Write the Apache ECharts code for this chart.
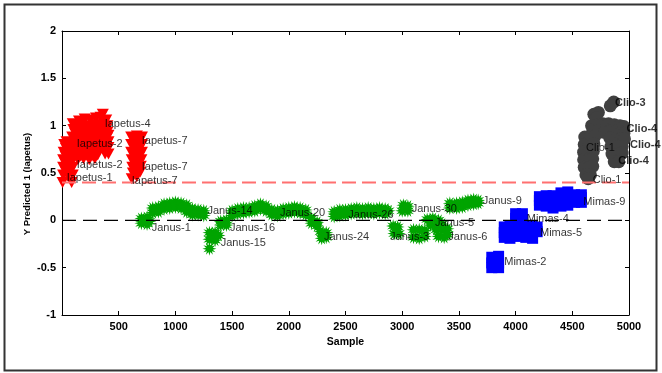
<!DOCTYPE html>
<html><head><meta charset="utf-8">
<script src="https://cdn.jsdelivr.net/npm/echarts@6/dist/echarts.min.js"></script>
<style>html,body{margin:0;padding:0;background:#fff}#c{width:662px;height:373px}</style>
</head><body><div id="c"></div>
<script>
// ---- data (sample index, Y predicted) ----
const iapetus = [
 [5,0.40],[85,0.40],
 [10,0.48],[50,0.47],[95,0.48],[30,0.52],[75,0.52],
 [10,0.56],[50,0.55],[95,0.56],[30,0.60],[75,0.60],
 [10,0.64],[50,0.63],[95,0.64],[30,0.68],[75,0.68],
 [15,0.72],[55,0.71],[100,0.72],[35,0.76],[80,0.76],
 [20,0.80],[60,0.80],[100,0.80],[40,0.83],
 [90,0.64],[140,0.64],[190,0.65],[240,0.64],[290,0.65],[380,0.70],[410,0.70],
 [115,0.68],[165,0.68],[215,0.69],[265,0.68],[315,0.69],[395,0.74],
 [90,0.72],[140,0.73],[190,0.72],[240,0.73],[290,0.72],[340,0.76],[380,0.76],[410,0.77],
 [115,0.76],[165,0.77],[215,0.76],[265,0.77],[315,0.76],[360,0.79],[395,0.80],
 [90,0.80],[140,0.81],[190,0.80],[240,0.81],[290,0.80],[340,0.81],[380,0.82],[410,0.83],
 [115,0.84],[165,0.85],[215,0.84],[265,0.85],[315,0.84],[360,0.86],[395,0.87],
 [90,0.88],[140,0.89],[190,0.88],[240,0.89],[290,0.88],[340,0.89],[380,0.90],[410,0.90],
 [115,0.92],[165,0.93],[215,0.92],[265,0.93],[315,0.92],[365,0.93],[400,0.93],
 [100,0.96],[150,0.97],[200,0.96],[250,0.97],[300,0.96],[350,0.97],[390,0.96],
 [125,1.00],[175,1.01],[225,1.00],[275,1.01],[325,1.01],[370,1.02],[400,1.00],
 [95,1.02],[150,1.05],[200,1.07],[250,1.06],[300,1.08],[340,1.09],[360,1.12],[390,1.06],
 [610,0.88],[660,0.89],[705,0.88],[635,0.84],[685,0.84],
 [610,0.80],[660,0.81],[705,0.80],[635,0.76],[685,0.76],
 [610,0.72],[660,0.72],[705,0.72],[635,0.68],[685,0.68],
 [615,0.64],[660,0.64],[700,0.64],[640,0.60],[680,0.60],
 [620,0.56],[660,0.56],[695,0.57],[640,0.53],[680,0.53],
 [625,0.50],[665,0.50],[690,0.51],
 [615,0.44],[660,0.46]
];
const janus = [
 [700,0.02],[750,0.03],[700,-0.03],[750,-0.04],[720,0.0],[770,-0.01],
 [800,0.13],[800,0.08],[850,0.14],[850,0.09],[900,0.17],[900,0.12],[950,0.18],[950,0.13],
 [1000,0.19],[1000,0.14],[1050,0.18],[1050,0.13],[1100,0.16],[1100,0.09],[1150,0.12],[1150,0.06],
 [1200,0.11],[1200,0.06],[1250,0.10],[1250,0.05],
 [1300,-0.13],[1350,-0.13],[1300,-0.20],[1350,-0.21],[1330,-0.17],[1380,-0.16],[1300,-0.30],
 [1400,-0.01],[1400,-0.05],[1450,0.0],[1450,-0.05],
 [1500,0.05],[1500,0.10],[1550,0.07],[1550,0.12],[1600,0.08],[1600,0.13],[1650,0.09],[1650,0.13],
 [1700,0.10],[1700,0.15],[1750,0.12],[1750,0.17],[1800,0.10],[1800,0.15],[1850,0.06],[1850,0.11],
 [1900,0.05],[1900,0.10],
 [1950,0.07],[1950,0.12],[2000,0.08],[2000,0.13],[2050,0.09],[2050,0.14],[2100,0.08],[2100,0.13],
 [2150,0.06],[2150,0.11],
 [2200,0.02],[2200,-0.03],[2250,-0.02],[2250,-0.06],
 [2280,-0.12],[2330,-0.13],[2290,-0.19],[2330,-0.18],
 [2400,0.04],[2400,0.09],[2450,0.05],[2450,0.11],[2500,0.06],[2500,0.11],
 [2550,0.07],[2550,0.12],[2600,0.08],[2600,0.13],[2650,0.07],[2650,0.12],[2700,0.08],[2700,0.13],
 [2750,0.07],[2750,0.12],[2800,0.08],[2800,0.13],[2850,0.07],[2850,0.12],[2880,0.10],
 [2920,-0.06],[2960,-0.07],[2930,-0.14],[2970,-0.14],
 [3000,0.10],[3050,0.10],[3010,0.16],[3050,0.15],
 [3100,-0.10],[3150,-0.10],[3200,-0.11],[3100,-0.18],[3150,-0.19],[3200,-0.17],
 [3220,0.01],[3270,0.02],[3320,0.0],[3250,-0.05],[3300,-0.05],[3350,-0.04],
 [3300,-0.10],[3350,-0.10],[3400,-0.09],[3320,-0.17],[3370,-0.18],[3400,-0.15],
 [3420,0.13],[3420,0.18],[3480,0.13],[3480,0.18],[3530,0.14],[3530,0.19],[3580,0.16],[3580,0.21],
 [3630,0.17],[3630,0.22],[3670,0.18],[3670,0.21]
];
const mimas = [
 [4210,0.16],[4210,0.21],[4210,0.25],[4270,0.15],[4270,0.21],[4270,0.26],[4330,0.13],[4330,0.20],[4330,0.26],
 [4400,0.15],[4400,0.22],[4400,0.29],[4460,0.16],[4460,0.22],[4460,0.30],[4520,0.19],[4520,0.24],[4520,0.27],
 [4580,0.19],[4580,0.24],[4580,0.27],
 [4000,0.07],[4060,0.07],[4000,0.02],[4060,0.01],
 [3900,-0.07],[3950,-0.06],[4000,-0.05],[3900,-0.13],[3950,-0.13],[4000,-0.12],[3900,-0.18],[3950,-0.19],[4000,-0.17],
 [4080,-0.06],[4140,-0.06],[4190,-0.07],[4080,-0.12],[4140,-0.13],[4190,-0.12],[4090,-0.18],[4150,-0.19],
 [3790,-0.39],[3850,-0.38],[3790,-0.45],[3850,-0.45],[3790,-0.50],[3850,-0.50]
];
const clio = [
 [4835,1.21],[4865,1.25],
 [4690,1.12],[4730,1.14],[4710,1.08],
 [4670,1.00],[4720,1.01],[4770,1.02],[4820,1.02],[4870,1.01],[4920,1.00],[4955,0.99],
 [4680,0.94],[4730,0.95],[4780,0.93],[4830,0.94],[4880,0.94],[4930,0.93],[4955,0.92],
 [4610,0.88],[4660,0.88],[4700,0.89],
 [4605,0.80],[4650,0.80],[4690,0.81],
 [4600,0.72],[4645,0.72],[4685,0.73],
 [4600,0.64],[4645,0.64],[4680,0.65],
 [4605,0.56],[4650,0.56],[4680,0.57],
 [4620,0.48],[4660,0.48],
 [4640,0.44],
 [4830,0.87],[4880,0.86],[4930,0.86],[4960,0.86],
 [4840,0.78],[4890,0.78],[4940,0.78],
 [4850,0.70],[4900,0.70],[4940,0.71],
 [4870,0.62],[4910,0.62]
];
const thresholdX = [0, 5000];
const thresholdY = 0.4;
const zeroY = 0;
const labelNames = ['Iapetus-4','Iapetus-2','Iapetus-2','Iapetus-1','Iapetus-7','Iapetus-7','Iapetus-7',
 'Janus-1','Janus-14','Janus-16','Janus-15','Janus-20','Janus-24','Janus-26','Janus-3','Janus-30','Janus-5','Janus-6','Janus-9',
 'Mimas-9','Mimas-4','Mimas-5','Mimas-2','Clio-3','Clio-4','Clio-4','Clio-4','Clio-1','Clio-1'];
const labelX = [376,130,130,41,703,703,615,791,1282,1481,1399,1922,2310,2525,2893,3084,3289,3407,3710,4597,4098,4215,3900,4877,4979,5009,4906,4621,4680];
const labelY = [1.016,0.81,0.59,0.45,0.84,0.566,0.42,-0.085,0.098,-0.078,-0.236,0.074,-0.18,0.056,-0.18,0.116,-0.032,-0.18,0.207,0.197,0.01,-0.13,-0.437,1.242,0.97,0.80,0.63,0.76,0.43];
const labelBold = [0,0,0,0,0,0,0,0,0,0,0,0,0,0,0,0,0,0,0,0,0,0,0,1,1,1,1,0,0];
const xTicks = {min:0, max:5000, interval:500};
const yTicks = {min:-1, max:2, interval:0.5};
const yTitle = 'Y Predicted 1 (Iapetus)';
const xTitle = 'Sample';

// ---- chart ----
const tickFont = "'Liberation Sans',Arial,sans-serif";
const txtFont = "'Liberation Sans',Arial,sans-serif";
const starPath = 'path://M20 10 L14.83 11.29 L18.66 15 L13.54 13.54 L15 18.66 L11.29 14.83 L10 20 L8.71 14.83 L5 18.66 L6.46 13.54 L1.34 15 L5.17 11.29 L0 10 L5.17 8.71 L1.34 5 L6.46 6.46 L5 1.34 L8.71 5.17 L10 0 L11.29 5.17 L15 1.34 L13.54 6.46 L18.66 5 L14.83 8.71 Z';
const axLine = {show:true, onZero:false, lineStyle:{color:'#000', width:1}};
const axTick = {show:true, inside:true, length:4, lineStyle:{color:'#000'}};
const chart = echarts.init(document.getElementById('c'));
chart.setOption({
  animation:false,
  backgroundColor:'#fff',
  grid:{left:62, right:33, top:31, bottom:58, outerBoundsMode:'none'},
  graphic:[
    {type:'rect', shape:{x:4.5, y:4.5, width:652, height:366}, style:{fill:null, stroke:'#333', lineWidth:2}, silent:true},
    {type:'text', x:27, y:184, rotation:Math.PI/2, silent:true,
     style:{text:yTitle, fill:'#000', font:"bold 9.5px 'Liberation Sans',Arial,sans-serif", align:'center', verticalAlign:'middle'}}
  ],
  xAxis:[
    {type:'value', min:xTicks.min, max:xTicks.max, interval:xTicks.interval,
     axisLine:axLine, axisTick:axTick, splitLine:{show:false},
     axisLabel:{formatter:v=>v===0?'':String(v), color:'#000', fontFamily:tickFont, fontWeight:'bold', fontSize:11, margin:6},
     name:xTitle, nameLocation:'middle', nameGap:21,
     nameTextStyle:{color:'#000', fontFamily:tickFont, fontWeight:'bold', fontSize:10.5}},
    {type:'value', position:'top', min:xTicks.min, max:xTicks.max, interval:xTicks.interval,
     axisLine:axLine, axisTick:axTick, splitLine:{show:false}, axisLabel:{show:false}}
  ],
  yAxis:[
    {type:'value', min:yTicks.min, max:yTicks.max, interval:yTicks.interval,
     axisLine:axLine, axisTick:axTick, splitLine:{show:false},
     axisLabel:{color:'#000', fontFamily:tickFont, fontWeight:'bold', fontSize:11, margin:6}},
    {type:'value', position:'right', min:yTicks.min, max:yTicks.max, interval:yTicks.interval,
     axisLine:axLine, axisTick:axTick, splitLine:{show:false}, axisLabel:{show:false}}
  ],
  series:[
    {type:'scatter', name:'Iapetus', data:iapetus, symbol:'triangle', symbolRotate:180, symbolSize:[12,11], clip:false, itemStyle:{color:'#ff0000', opacity:1}},
    {type:'scatter', name:'Janus', data:janus, symbol:starPath, symbolSize:14, clip:false, itemStyle:{color:'#00a400', opacity:1}},
    {type:'scatter', name:'Mimas', data:mimas, symbol:'rect', symbolSize:11, clip:false, itemStyle:{color:'#0000ff', opacity:1}},
    {type:'scatter', name:'Clio', data:clio, symbol:'circle', symbolSize:13, clip:false, itemStyle:{color:'#404040', opacity:1}},
    {type:'line', data:thresholdX.map(x=>[x,thresholdY]), symbol:'none', silent:true,
     lineStyle:{color:'#ff7070', width:2, type:[14,6]}},
    {type:'line', data:thresholdX.map(x=>[x,zeroY]), symbol:'none', silent:true,
     lineStyle:{color:'#000', width:1.3, type:[14,7]}},
    {type:'scatter', silent:true, symbolSize:0, clip:false, z:10,
     data:labelNames.map((n,i)=>({name:n, value:[labelX[i],labelY[i]],
        label:{fontWeight:labelBold[i]?'bold':'normal'}})),
     label:{show:true, position:'right', distance:0, formatter:p=>p.name, color:'#000', fontFamily:txtFont, fontSize:11}}
  ]
});
</script></body></html>
